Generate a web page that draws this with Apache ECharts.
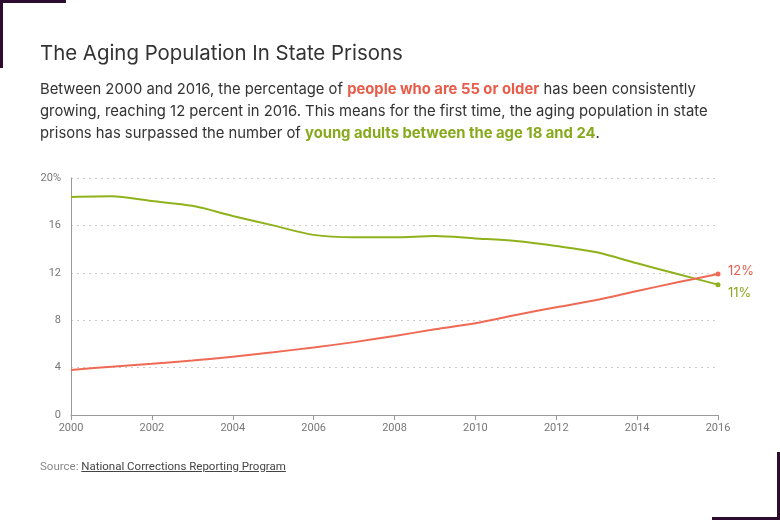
<!DOCTYPE html>
<html lang="en">
<head>
    <meta charset="UTF-8">
    <title>The Aging Population In State Prisons</title>
    <script src="https://cdn.jsdelivr.net/npm/echarts@6/dist/echarts.min.js"></script>
    <style>
        body {
            margin: 0;
            width: 780px;
            height: 520px;
            background: #fff;
            font-family: Inter, "Open Sans", sans-serif;
            position: relative;
            overflow: hidden;
        }
        .corner-tl { position: absolute; left: 0; top: 0; width: 66px; height: 68px;
            border-left: 3px solid #2e0c2f; border-top: 3px solid #2e0c2f; box-sizing: border-box; }
        .corner-br { position: absolute; right: 0; bottom: 0; width: 68px; height: 68px;
            border-right: 3px solid #2e0c2f; border-bottom: 3px solid #2e0c2f; box-sizing: border-box; }
        h2 {
            position: absolute; left: 40px; top: 40px; margin: 0;
            font-size: 20.4px; font-weight: 400; color: #333;
        }
        p.lede {
            position: absolute; left: 40px; top: 78px; margin: 0; width: 720px;
            font-size: 14.8px; line-height: 22px; color: #333;
        }
        .red { color: #e85c4a; font-weight: 700; }
        .green { color: #87a91c; font-weight: 700; }
        .source {
            position: absolute; left: 40px; top: 459px;
            font-size: 11.5px; color: #888; font-family: Roboto, sans-serif;
        }
        .source a { color: #444; text-decoration: underline; }
        #chart { position: absolute; left: 0; top: 0; width: 780px; height: 520px; }
    </style>
</head>
<body>
<div id="chart"></div>
<div class="corner-tl"></div>
<div class="corner-br"></div>
<h2>The Aging Population In State Prisons</h2>
<p class="lede">Between 2000 and 2016, the percentage of <span class="red">people who are 55 or older</span> has been consistently<br>
growing, reaching 12 percent in 2016. This means for the first time, the aging population in state<br>
prisons has surpassed the number of <span class="green">young adults between the age 18 and 24</span>.</p>
<div class="source">Source: <a>National Corrections Reporting Program</a></div>

<script>
    var years = ['2000', '2001', '2002', '2003', '2004', '2005', '2006', '2007', '2008',
                 '2009', '2010', '2011', '2012', '2013', '2014', '2015', '2016'];
    // share of state prison population, percent
    var older55 = [3.8, 4.08, 4.33, 4.6, 4.92, 5.3, 5.7, 6.15, 6.67, 7.23, 7.74, 8.44, 9.09, 9.7, 10.46, 11.2, 11.9];
    var young18to24 = [18.4, 18.45, 18.05, 17.65, 16.8, 16.0, 15.2, 15.0, 15.0, 15.1, 14.9, 14.68, 14.26, 13.73, 12.8, 11.9, 11.0];
    var yTicks = ['0', '4', '8', '12', '16', '20%'];

    var chart = echarts.init(document.getElementById('chart'));

    // only the last point gets a dot
    function withEndDot(arr) {
        return arr.map(function (v, i) {
            return i === arr.length - 1 ? { value: v, symbol: 'circle', symbolSize: 5 } : v;
        });
    }

    var axisFont = { color: '#777', fontSize: 11, fontFamily: 'Roboto, sans-serif' };

    chart.setOption({
        animation: false,
        grid: { left: 71, right: 62, top: 178, bottom: 105 },
        xAxis: {
            type: 'category',
            data: years,
            boundaryGap: false,
            axisLine: { lineStyle: { color: '#999' } },
            axisTick: { interval: 1, length: 5, lineStyle: { color: '#999' } },
            axisLabel: Object.assign({ interval: 1, margin: 8 }, axisFont),
            splitLine: { show: false }
        },
        yAxis: {
            type: 'value',
            min: 0,
            max: 20,
            interval: 4,
            axisLine: { show: true, lineStyle: { color: '#999' } },
            axisTick: { show: false },
            axisLabel: Object.assign({
                margin: 10,
                formatter: function (v) { return yTicks[v / 4]; }
            }, axisFont),
            splitLine: { lineStyle: { color: '#ccc', type: [2, 4] } }
        },
        series: [
            {
                name: 'Young adults 18-24',
                type: 'line',
                smooth: 0.3,
                symbol: 'none',
                data: withEndDot(young18to24),
                lineStyle: { color: '#8fb21c', width: 2 },
                itemStyle: { color: '#8fb21c' },
                endLabel: {
                    show: true, formatter: '11%', color: '#87a91c',
                    fontSize: 13, fontFamily: 'Inter, sans-serif', offset: [2, 8]
                }
            },
            {
                name: '55 or older',
                type: 'line',
                smooth: 0.3,
                symbol: 'none',
                data: withEndDot(older55),
                lineStyle: { color: '#ef6a55', width: 2 },
                itemStyle: { color: '#ef6a55' },
                endLabel: {
                    show: true, formatter: '12%', color: '#e85c4a',
                    fontSize: 13, fontFamily: 'Inter, sans-serif', offset: [2, -3]
                }
            }
        ]
    });
</script>
</body>
</html>
